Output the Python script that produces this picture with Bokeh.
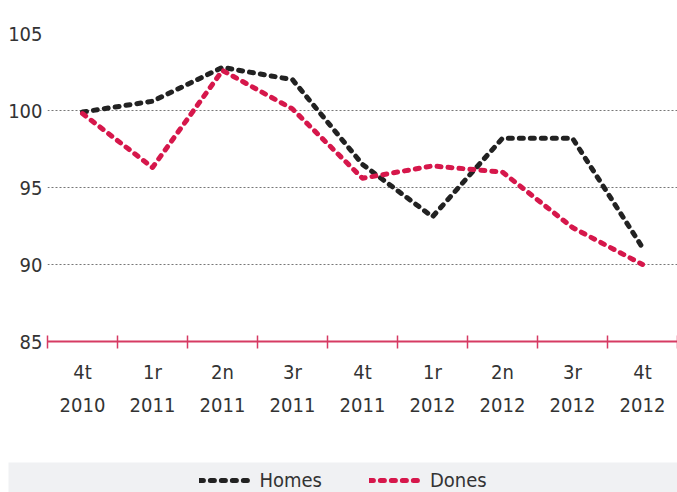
from bokeh.plotting import figure
from bokeh.models import FixedTicker, Range1d, Legend, LegendItem
from bokeh.layouts import column
from bokeh.embed import file_html
from bokeh.resources import INLINE

quarters = ["4t", "1r", "2n", "3r", "4t", "1r", "2n", "3r", "4t"]
years = ["2010", "2011", "2011", "2011", "2011", "2012", "2012", "2012", "2012"]
homes = [99.9, 100.6, 102.8, 102.0, 96.5, 93.1, 98.2, 98.2, 91.1]
dones = [99.8, 96.3, 102.6, 100.1, 95.6, 96.4, 96.0, 92.4, 90.0]
y_ticks = [85, 90, 95, 100, 105]

FONT = "DejaVu Sans Condensed"
FS = "20px"
TXT = "#333333"
AXIS_COL = "#d63b63"
BLACK = "#222222"
RED = "#d6174b"
DASH = "4 7"

n = len(quarters)
xs = list(range(n))
labels = {i: f"{quarters[i]}\n{years[i]}" for i in xs}

p = figure(width=677, height=462, output_backend="svg", toolbar_location=None,
           x_range=Range1d(-0.5, n - 0.5), y_range=Range1d(85, 105),
           min_border_left=47, min_border_right=0, min_border_top=33, min_border_bottom=121)
p.frame_align = False
p.outline_line_color = None
p.background_fill_color = "white"

p.line(xs, homes, line_color=BLACK, line_width=5, line_dash=DASH, line_cap="round", line_join="round")
p.line(xs, dones, line_color=RED, line_width=5, line_dash=DASH, line_cap="round", line_join="round")

xa = p.xaxis[0]
xa.ticker = FixedTicker(ticks=xs, minor_ticks=[i - 0.5 for i in range(n + 1)])
xa.major_label_overrides = labels
xa.axis_line_color = AXIS_COL
xa.axis_line_width = 2
xa.major_tick_line_color = None
xa.major_tick_in = 0
xa.major_tick_out = 0
xa.minor_tick_line_color = AXIS_COL
xa.minor_tick_line_width = 1.5
xa.minor_tick_in = 6
xa.minor_tick_out = 7
xa.major_label_standoff = 11
xa.major_label_text_font = FONT
xa.major_label_text_font_size = FS
xa.major_label_text_color = TXT
xa.major_label_text_line_height = 1.4

ya = p.yaxis[0]
ya.ticker = FixedTicker(ticks=y_ticks)
ya.axis_line_color = None
ya.major_tick_line_color = None
ya.minor_tick_line_color = None
ya.major_tick_out = 0
ya.major_tick_in = 0
ya.major_label_standoff = 5
ya.major_label_text_font = FONT
ya.major_label_text_font_size = FS
ya.major_label_text_color = TXT

p.xgrid.grid_line_color = None
p.ygrid.grid_line_color = "#777777"
p.ygrid.grid_line_dash = "2 2"
p.ygrid.grid_line_width = 1

# legend strip
BAND = "#f0f1f3"
q = figure(width=677, height=30, output_backend="svg", toolbar_location=None,
           x_axis_type=None, y_axis_type=None,
           x_range=Range1d(0, 1), y_range=Range1d(0, 1),
           min_border=0, min_border_left=8)
q.frame_align = False
q.outline_line_color = None
q.background_fill_color = BAND
q.border_fill_color = "white"
q.xgrid.grid_line_color = None
q.ygrid.grid_line_color = None
h1 = q.line([5, 6], [5, 5], line_color=BLACK, line_width=5, line_dash=DASH, line_cap="round")
h2 = q.line([5, 6], [5, 5], line_color=RED, line_width=5, line_dash=DASH, line_cap="round")
leg = Legend(items=[LegendItem(label="Homes", renderers=[h1]), LegendItem(label="Dones", renderers=[h2])],
             orientation="horizontal", location="bottom_center",
             background_fill_alpha=0, border_line_color=None,
             glyph_width=53, label_standoff=8, spacing=47, padding=0, margin=0,
             label_text_font=FONT, label_text_font_size=FS, label_text_color=TXT)
q.add_layout(leg)

layout = column(p, q, spacing=0)
open("out.html", "w").write(file_html(layout, INLINE))
